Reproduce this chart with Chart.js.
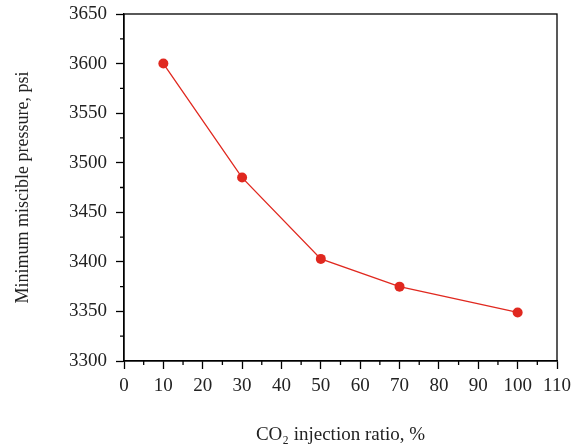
<!DOCTYPE html>
<html>
<head>
<meta charset="utf-8">
<script src="https://cdn.jsdelivr.net/npm/chart.js@4"></script>
<style>
  html, body { margin: 0; padding: 0; background: #fff; }
  #wrap { width: 580px; height: 446px; }
</style>
</head>
<body>
<div id="wrap"><canvas id="mmpChart" width="580" height="446"></canvas></div>
<script>
// データ
const co2Ratio = [10, 30, 50, 70, 100];
const mmpValues = [3600, 3485, 3403, 3375, 3349];
const xTicks = [0, 10, 20, 30, 40, 50, 60, 70, 80, 90, 100, 110];
const yTicks = [3300, 3350, 3400, 3450, 3500, 3550, 3600, 3650];

const RED = '#e0281f';
const FONT = "'Liberation Serif', 'DejaVu Serif', serif";

// 枠線と補助目盛り
const framePlugin = {
    id: 'frame',
    afterDraw(chart) {
        const ctx = chart.ctx;
        const a = chart.chartArea;
        const x = chart.scales.x;
        const y = chart.scales.y;
        ctx.save();
        ctx.strokeStyle = '#000';
        ctx.lineWidth = 1.3;
        ctx.strokeRect(a.left, a.top, a.right - a.left, a.bottom - a.top);
        ctx.beginPath();
        for (let i = 0; i < xTicks.length - 1; i++) {
            const px = x.getPixelForValue((xTicks[i] + xTicks[i + 1]) / 2);
            ctx.moveTo(px, a.bottom);
            ctx.lineTo(px, a.bottom + 4);
        }
        for (let i = 0; i < yTicks.length - 1; i++) {
            const py = y.getPixelForValue((yTicks[i] + yTicks[i + 1]) / 2);
            ctx.moveTo(a.left, py);
            ctx.lineTo(a.left - 4, py);
        }
        ctx.stroke();
        ctx.restore();
    }
};

const ctx = document.getElementById('mmpChart').getContext('2d');
new Chart(ctx, {
    type: 'line',
    data: {
        datasets: [{
            data: co2Ratio.map((v, i) => ({ x: v, y: mmpValues[i] })),
            borderColor: RED,
            backgroundColor: RED,
            borderWidth: 1.3,
            pointRadius: 5,
            pointBorderWidth: 0,
            tension: 0
        }]
    },
    options: {
        responsive: false,
        animation: false,
        layout: { padding: { left: 0, right: 23, top: 14, bottom: 0 } },
        plugins: { legend: { display: false }, tooltip: { enabled: false } },
        scales: {
            x: {
                type: 'linear',
                min: 0,
                max: 110,
                afterBuildTicks: s => { s.ticks = xTicks.map(v => ({ value: v })); },
                afterFit: s => { s.height = 85; s.paddingLeft = 0; s.paddingRight = 0; },
                border: { display: true, color: '#000', width: 1.3 },
                grid: { drawOnChartArea: false, tickLength: 8, tickColor: '#000', tickWidth: 1.3 },
                ticks: { color: '#222', padding: 6, font: { family: FONT, size: 19 }, maxRotation: 0,
                         callback: v => String(v) },
                title: {
                    display: true,
                    text: 'CO₂ injection ratio, %',
                    color: '#222',
                    font: { family: FONT, size: 19 },
                    padding: { top: 0, bottom: 0 }
                }
            },
            y: {
                type: 'linear',
                min: 3300,
                max: 3650,
                afterBuildTicks: s => { s.ticks = yTicks.map(v => ({ value: v })); },
                afterFit: s => { s.width = 124; s.paddingTop = 0; s.paddingBottom = 0; },
                border: { display: true, color: '#000', width: 1.3 },
                grid: { drawOnChartArea: false, tickLength: 8, tickColor: '#000', tickWidth: 1.3 },
                ticks: { color: '#222', padding: 9, font: { family: FONT, size: 19 },
                         callback: v => String(v) },
                title: {
                    display: true,
                    text: 'Minimum miscible pressure, psi',
                    color: '#222',
                    font: { family: FONT, size: 18 },
                    padding: { top: 12, bottom: 12 }
                }
            }
        }
    },
    plugins: [framePlugin]
});
</script>
</body>
</html>
